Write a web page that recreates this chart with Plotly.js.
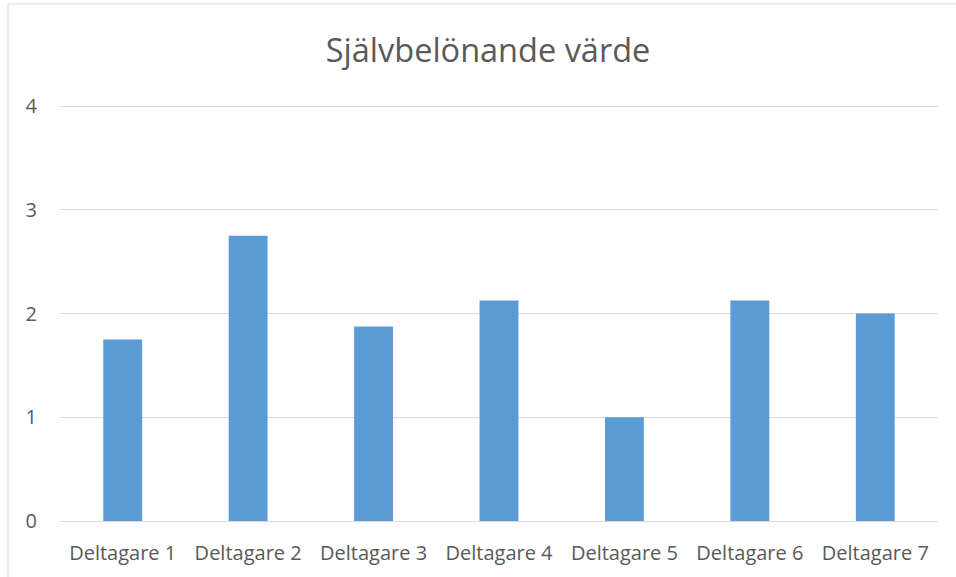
<!DOCTYPE html>
<html>
<head>
<meta charset="utf-8">
<script src="https://cdn.plot.ly/plotly-3.0.1.min.js"></script>
<style>
html,body{margin:0;padding:0;background:#fff;}
#chart{width:956px;height:577px;}
</style>
</head>
<body>
<div id="chart"></div>
<script>
const categories = ["Deltagare 1","Deltagare 2","Deltagare 3","Deltagare 4","Deltagare 5","Deltagare 6","Deltagare 7"];
const values = [1.75, 2.75, 1.875, 2.125, 1, 2.125, 2];
const yTicks = [0, 1, 2, 3, 4];
const chartTitle = "Självbelönande värde";

const trace = {
  type: 'bar',
  x: categories,
  y: values,
  marker: {color: '#5B9BD5'},
  hoverinfo: 'x+y'
};

const layout = {
  width: 956,
  height: 577,
  margin: {l: 60, r: 18, t: 104, b: 56},
  paper_bgcolor: '#ffffff',
  plot_bgcolor: '#ffffff',
  font: {family: 'Open Sans, sans-serif', color: '#595959', size: 20},
  title: {
    text: chartTitle,
    font: {family: 'Open Sans, sans-serif', size: 32.5, color: '#595959'},
    x: 0.5105, xanchor: 'center',
    y: 0.912, yanchor: 'middle'
  },
  bargap: 0.69,
  showlegend: false,
  xaxis: {
    type: 'category',
    showgrid: false,
    showline: true,
    linecolor: '#D9D9D9',
    linewidth: 1,
    ticks: '',
    ticklabelstandoff: 14,
    tickfont: {size: 20, color: '#595959'},
    fixedrange: true
  },
  yaxis: {
    range: [0, 4.02],
    tickvals: yTicks,
    ticktext: yTicks.map(String),
    showgrid: true,
    gridcolor: '#D9D9D9',
    gridwidth: 1,
    zeroline: false,
    showline: false,
    ticks: '',
    ticklabelstandoff: 22,
    tickfont: {size: 20, color: '#595959'},
    fixedrange: true
  },
  shapes: [
    {type: 'line', xref: 'paper', yref: 'paper', x0: -0.0592, x1: -0.0592, y0: -0.2, y1: 1.24,
     line: {color: '#D9D9D9', width: 1}},
    {type: 'line', xref: 'paper', yref: 'paper', x0: -0.0592, x1: 1.1, y0: 1.24, y1: 1.24,
     line: {color: '#D9D9D9', width: 1}}
  ]
};

Plotly.newPlot('chart', [trace], layout, {displayModeBar: false, staticPlot: true});
</script>
</body>
</html>
